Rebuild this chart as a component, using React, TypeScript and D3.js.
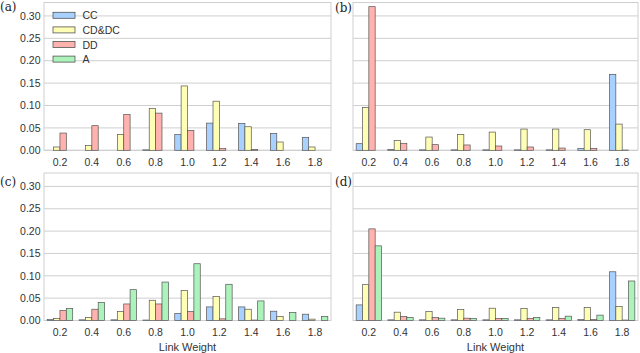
import React from "react";
import * as d3 from "d3";

const categories = ["0.2", "0.4", "0.6", "0.8", "1.0", "1.2", "1.4", "1.6", "1.8"];
const seriesNames = ["CC", "CD&DC", "DD", "A"];
const seriesColors = ["#a8d1ff", "#fffeb5", "#ffb2ae", "#acf3bb"];
const yTicks = [0, 0.05, 0.1, 0.15, 0.2, 0.25, 0.3];

// panel (a)
const aCC = [0, 0, 0, 0.001, 0.035, 0.0607, 0.060, 0.0378, 0.029];
const aCD = [0.0074, 0.011, 0.0356, 0.093, 0.1437, 0.1096, 0.0526, 0.0185, 0.0074];
const aDD = [0.0385, 0.055, 0.080, 0.083, 0.0444, 0.0037, 0.0015, 0, 0];
const aA = [0, 0, 0, 0, 0, 0, 0, 0, 0];
// panel (b)
const bCC = [0.0148, 0.0015, 0.001, 0.001, 0.001, 0.001, 0.001, 0.0037, 0.1696];
const bCD = [0.0956, 0.022, 0.0296, 0.0356, 0.0407, 0.0474, 0.0474, 0.046, 0.0585];
const bDD = [0.3207, 0.0156, 0.0126, 0.0119, 0.0096, 0.0074, 0.005, 0.0044, 0.0005];
const bA = [0, 0, 0, 0, 0, 0, 0, 0, 0];
// panel (c)
const cCC = [0.002, 0.0015, 0.0015, 0.001, 0.0156, 0.0304, 0.0304, 0.0208, 0.0141];
const cCD = [0.0045, 0.0067, 0.020, 0.0453, 0.0668, 0.0535, 0.0252, 0.0089, 0.003];
const cDD = [0.0223, 0.0252, 0.037, 0.037, 0.020, 0.0037, 0.001, 0, 0];
const cA = [0.0267, 0.040, 0.069, 0.086, 0.127, 0.081, 0.0438, 0.0178, 0.009];
// panel (d)
const dCC = [0.0349, 0.0015, 0.0015, 0.0015, 0.0015, 0.0015, 0.0015, 0.0022, 0.109];
const dCD = [0.0802, 0.0186, 0.020, 0.0245, 0.0275, 0.0267, 0.029, 0.029, 0.031];
const dDD = [0.205, 0.0089, 0.0067, 0.0052, 0.0045, 0.0045, 0.0045, 0.0022, 0.001];
const dA = [0.167, 0.0067, 0.0052, 0.0045, 0.0048, 0.0067, 0.0097, 0.012, 0.0884];

const panels = [
  { label: "(a)", series: [aCC, aCD, aDD, aA], left: 44, right: 331, top: 2.5, zero: 150.3, yLabels: true, legend: true, xTitle: false, lx: 0, ly: 11 },
  { label: "(b)", series: [bCC, bCD, bDD, bA], left: 353, right: 638, top: 2.5, zero: 150.3, yLabels: false, legend: false, xTitle: false, lx: 335, ly: 12 },
  { label: "(c)", series: [cCC, cCD, cDD, cA], left: 44, right: 331, top: 173, zero: 320.5, yLabels: true, legend: false, xTitle: true, lx: 0, ly: 186 },
  { label: "(d)", series: [dCC, dCD, dDD, dA], left: 353, right: 638, top: 173, zero: 320.5, yLabels: false, legend: false, xTitle: true, lx: 335, ly: 186 },
];

const FONT = "'Liberation Sans', Arial, sans-serif";
const TEXT = "#333333";
const GRID = "#cfcfcf";

function Panel({ p }: { p: (typeof panels)[number] }) {
  const x = d3.scaleBand<string>().domain(categories).range([p.left, p.right]).paddingInner(0.2).paddingOuter(0.1);
  const x1 = d3.scaleBand<number>().domain([0, 1, 2, 3]).range([0, x.bandwidth()]);
  const y = d3.scaleLinear().domain([0, 0.33]).range([p.zero, p.top]);
  const step = x.step();
  const frameLeft = p.left;
  const frameRight = p.right;
  return (
    <g>
      {yTicks.map((t) => (
        <line key={t} x1={frameLeft} x2={frameRight} y1={y(t)} y2={y(t)} stroke={GRID} strokeWidth={1} />
      ))}
      <rect x={frameLeft} y={p.top} width={frameRight - frameLeft} height={p.zero - p.top} fill="none" stroke={GRID} strokeWidth={1} />
      {p.legend &&
        seriesNames.map((n, i) => (
          <g key={n}>
            <rect x={53} y={12.3 + i * 14.6} width={22} height={6} fill={seriesColors[i]} stroke="#555" strokeWidth={0.8} />
            <text x={82.5} y={19.3 + i * 14.6} fontSize={10.5} fontFamily={FONT} fill={TEXT}>
              {n}
            </text>
          </g>
        ))}
      {p.series.map((vals, si) =>
        vals.map((v, ci) =>
          v > 0 ? (
            <rect
              key={`${si}-${ci}`}
              x={(x(categories[ci]) as number) + (x1(si) as number)}
              y={y(v)}
              width={x1.bandwidth()}
              height={p.zero - y(v)}
              fill={seriesColors[si]}
              stroke="#555"
              strokeWidth={0.7}
            />
          ) : null
        )
      )}
      {p.yLabels &&
        yTicks.map((t) => (
          <text key={t} x={p.left - 3.5} y={y(t) + 3.7} textAnchor="end" fontSize={10.5} fontFamily={FONT} fill={TEXT}>
            {t.toFixed(2)}
          </text>
        ))}
      {categories.map((c) => (
        <text key={c} x={(x(c) as number) + x.bandwidth() / 2} y={p.zero + 15.2} textAnchor="middle" fontSize={10.5} fontFamily={FONT} fill={TEXT}>
          {c}
        </text>
      ))}
      {p.xTitle && (
        <text x={(p.left + p.right) / 2} y={350.5} textAnchor="middle" fontSize={11} fontFamily={FONT} fill={TEXT}>
          Link Weight
        </text>
      )}
      <text x={p.lx} y={p.ly} fontSize={12} fontFamily="'DejaVu Serif', 'Liberation Serif', serif" fill="#222">
        {p.label}
      </text>
      <g style={{ display: "none" }}>{step}</g>
    </g>
  );
}

export default function App() {
  return (
    <svg width={640} height={353} style={{ position: "absolute", left: 0, top: 0, background: "#fff" }}>
      <rect width={640} height={353} fill="#fff" />
      {panels.map((p) => (
        <Panel key={p.label} p={p} />
      ))}
    </svg>
  );
}
